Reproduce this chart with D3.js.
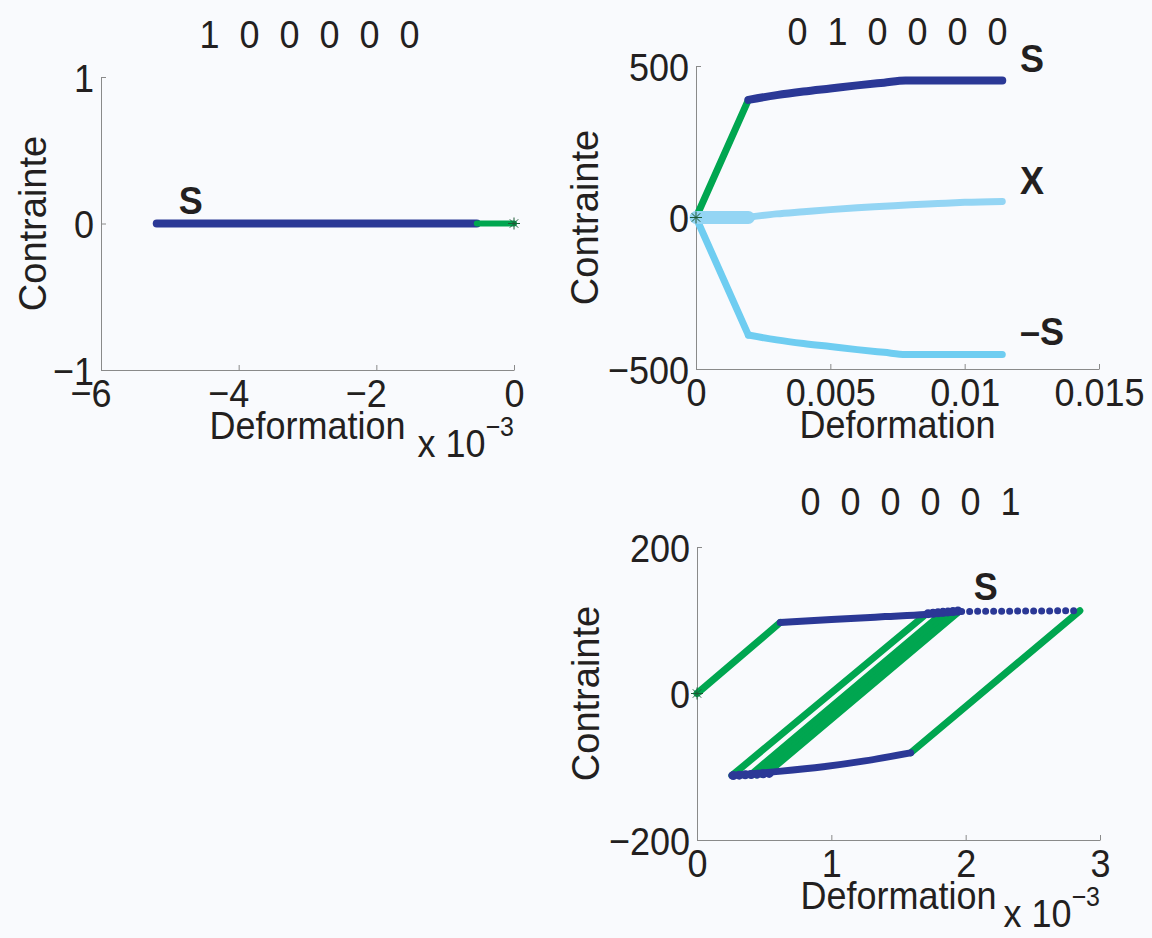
<!DOCTYPE html>
<html><head><meta charset="utf-8">
<script src="https://cdn.jsdelivr.net/npm/d3@7"></script>
<style>
html,body{margin:0;padding:0;background:#f9fafd;}
svg{display:block;font-family:"Liberation Sans",Arial,Helvetica,sans-serif;}
</style></head><body>
<svg id="chart" width="1152" height="938"></svg>
<script>
// ---------- data ----------
const titles = ["1  0  0  0  0  0", "0  1  0  0  0  0", "0  0  0  0  0  1"];
const xLabel = "Deformation";
const yLabel = "Contrainte";

// panel 1 : 1 0 0 0 0 0
const p1XTicks = [-6e-3, -4e-3, -2e-3, 0];
const p1XTickLabels = ["\u22126", "\u22124", "\u22122", "0"];
const p1YTicks = [-1, 0, 1];
const p1YTickLabels = ["\u22121", "0", "1"];
const p1Blue = [[-5.19e-3, 0], [-0.54e-3, 0]];
const p1Green = [[-0.54e-3, 0], [0, 0]];

// panel 2 : 0 1 0 0 0 0
const p2XTicks = [0, 0.005, 0.01, 0.015];
const p2XTickLabels = ["0", "0.005", "0.01", "0.015"];
const p2YTicks = [-500, 0, 500];
const p2YTickLabels = ["\u2212500", "0", "500"];
const p2Green = [[0, 0], [0.00195, 388]];
const p2S = [[0.00195, 388], [0.003, 404], [0.004, 416], [0.005, 426], [0.006, 436], [0.007, 445], [0.0078, 452], [0.0114, 452]];
const p2XBand = [[0, 0], [0.00195, 0]];
const p2X = [[0.00195, 1], [0.003, 12], [0.004, 19], [0.005, 26], [0.006, 32], [0.007, 37], [0.008, 42], [0.009, 46], [0.010, 50], [0.0114, 53]];
const p2MinusSElastic = [[0, 0], [0.00195, -388]];
const p2MinusS = [[0.00195, -388], [0.003, -404], [0.004, -416], [0.005, -426], [0.006, -436], [0.007, -445], [0.0078, -452], [0.0114, -452]];

// panel 3 : 0 0 0 0 0 1
const p3XTicks = [0, 1e-3, 2e-3, 3e-3];
const p3XTickLabels = ["0", "1", "2", "3"];
const p3YTicks = [-200, 0, 200];
const p3YTickLabels = ["\u2212200", "0", "200"];
const p3GreenLoad = [[0, 0], [0.62e-3, 97]];
const p3BlueTop = [[0.62e-3, 97], [1.0e-3, 101], [1.4e-3, 105], [1.7e-3, 108], [1.95e-3, 112]];
const p3BlueTopDense = [[1.72e-3, 109], [1.97e-3, 113]];
const p3BlueTopDots = [[1.97e-3, 112], [2.85e-3, 113]];
const p3GreenLeft = [[0.26e-3, -112], [1.69e-3, 106]];
const p3GreenBand = [
  [[0.40e-3, -111], [1.83e-3, 110]],
  [[0.44e-3, -111], [1.87e-3, 111]],
  [[0.48e-3, -110], [1.91e-3, 112]],
  [[0.52e-3, -109], [1.95e-3, 112]]
];
const p3BlueBottom = [[0.26e-3, -112], [0.57e-3, -107], [0.94e-3, -100], [1.25e-3, -92], [1.59e-3, -81]];
const p3BlueBottomDense = [[0.27e-3, -112], [0.55e-3, -109]];
const p3GreenRight = [[1.59e-3, -81], [2.85e-3, 113]];

// ---------- style ----------
const C = {
  blue: "#2b3896", green: "#00a650", lightX: "#94d5f4", sky: "#6fcdf1",
  text: "#231f20", axis: "#8a8a8a", star: "#1d5a36"
};
const FS = 36, SY = 1.1, FS_ROT = 38;

const svg = d3.select("#chart");

function T(parent, x, y, str, o) {
  o = o || {};
  const t = parent.append("text")
    .attr("transform", `translate(${x},${y}) scale(1,${o.sy || SY})`)
    .attr("text-anchor", o.anchor || "start")
    .attr("font-size", o.size || FS)
    .attr("font-weight", o.weight || "normal")
    .attr("fill", C.text);
  if (o.pre) t.attr("xml:space", "preserve").style("white-space", "pre");
  t.text(str);
  return t;
}

function panel(cfg) {
  const x = d3.scaleLinear().domain(cfg.xDomain).range([cfg.left, cfg.right]);
  const y = d3.scaleLinear().domain(cfg.yDomain).range([cfg.bottom, cfg.top]);
  const g = svg.append("g");

  const ax = g.append("g").attr("transform", `translate(0,${cfg.bottom})`)
    .call(d3.axisBottom(x).tickValues(cfg.xTicks).tickSizeInner(-5).tickSizeOuter(0).tickFormat(""));
  const ay = g.append("g").attr("transform", `translate(${cfg.left},0)`)
    .call(d3.axisLeft(y).tickValues(cfg.yTicks).tickSizeInner(-5).tickSizeOuter(0).tickFormat(""));
  [ax, ay].forEach(a => {
    a.select(".domain").attr("stroke", C.axis).attr("stroke-width", 1);
    a.selectAll(".tick line").attr("stroke", C.axis).attr("stroke-width", 1);
    a.selectAll(".tick text").remove();
  });
  ax.selectAll(".tick").each(function (d, i) {
    const lab = cfg.xTickLabels[i];
    if (lab.startsWith("\u2212")) {
      const nd = lab.length - 1;
      T(d3.select(this), nd * 0.556 * FS / 2, 37, lab, { anchor: "end" });
    } else {
      T(d3.select(this), 0, 37, lab, { anchor: "middle" });
    }
  });
  ay.selectAll(".tick").each(function (d, i) {
    T(d3.select(this), -7, 0.36 * FS * SY, cfg.yTickLabels[i], { anchor: "end" });
  });

  // labels
  T(g, (cfg.left + cfg.right) / 2, cfg.bottom + 69, xLabel, { anchor: "middle" });
  g.append("text").attr("transform", `translate(${cfg.yLabelX},${(cfg.top + cfg.bottom) / 2}) rotate(-90)`)
    .attr("text-anchor", "middle").attr("font-size", FS_ROT).attr("fill", C.text).text(yLabel);
  T(g, (cfg.left + cfg.right) / 2 + (cfg.titleDx || 0), cfg.titleY, cfg.title, { anchor: "middle", pre: true });
  if (cfg.exponent) {
    const e = T(g, cfg.right, cfg.bottom + 87, "", { anchor: "end" });
    e.append("tspan").text("x 10");
    e.append("tspan").attr("font-size", 25).attr("dy", -19).text("\u22123");
  }
  return { g, x, y };
}

function line(p, data, color, width, opts) {
  opts = opts || {};
  const gen = d3.line().x(d => p.x(d[0])).y(d => p.y(d[1]));
  if (opts.curve) gen.curve(d3.curveMonotoneX);
  const path = p.g.append("path").attr("d", gen(data)).attr("fill", "none")
    .attr("stroke", color).attr("stroke-width", width)
    .attr("stroke-linecap", "round").attr("stroke-linejoin", "round");
  if (opts.dash) path.attr("stroke-dasharray", opts.dash);
  return path;
}

function star(p, pt) {
  const cx = p.x(pt[0]), cy = p.y(pt[1]), r = 6;
  const s = p.g.append("g").attr("stroke", C.star).attr("stroke-width", 1);
  [[r, 0], [0, r], [r * 0.7, r * 0.7], [r * 0.7, -r * 0.7]].forEach(([dx, dy]) => {
    s.append("line").attr("x1", cx - dx).attr("y1", cy - dy).attr("x2", cx + dx).attr("y2", cy + dy);
  });
}

function ann(p, pt, txt, anchor) {
  T(p.g, p.x(pt[0]), p.y(pt[1]), txt, { anchor: anchor || "start", weight: "bold" });
}

// ---------- panel 1 ----------
const P1 = panel({
  left: 101, right: 514, top: 77, bottom: 370,
  xDomain: [-6e-3, 0], yDomain: [-1, 1],
  xTicks: p1XTicks, xTickLabels: p1XTickLabels, yTicks: p1YTicks, yTickLabels: p1YTickLabels,
  yLabelX: 46, title: titles[0], titleY: 48, titleDx: 2, exponent: true
});
line(P1, p1Blue, C.blue, 8);
line(P1, p1Green, C.green, 6);
star(P1, [0, 0]);
ann(P1, [-4.87e-3, 0.065], "S");

// ---------- panel 2 ----------
const P2 = panel({
  left: 696, right: 1099, top: 66, bottom: 369,
  xDomain: [0, 0.015], yDomain: [-500, 500],
  xTicks: p2XTicks, xTickLabels: p2XTickLabels, yTicks: p2YTicks, yTickLabels: p2YTickLabels,
  yLabelX: 598, title: titles[1], titleY: 45, exponent: false
});
line(P2, p2Green, C.green, 7);
line(P2, p2S, C.blue, 8, { curve: true });
line(P2, p2MinusSElastic, C.sky, 7);
line(P2, p2MinusS, C.sky, 7, { curve: true });
line(P2, p2X, C.lightX, 7, { curve: true });
line(P2, p2XBand, C.lightX, 13);
star(P2, [0, 0]);
ann(P2, [0.01206, 480], "S");
ann(P2, [0.01206, 78], "X");
ann(P2, [0.01206, -421], "\u2013S");

// ---------- panel 3 ----------
const P3 = panel({
  left: 697, right: 1100, top: 547, bottom: 840,
  xDomain: [0, 3e-3], yDomain: [-200, 200],
  xTicks: p3XTicks, xTickLabels: p3XTickLabels, yTicks: p3YTicks, yTickLabels: p3YTickLabels,
  yLabelX: 599, title: titles[2], titleY: 515, titleDx: 12, exponent: true
});
line(P3, p3GreenLoad, C.green, 7);
line(P3, p3GreenLeft, C.green, 7);
p3GreenBand.forEach(seg => line(P3, seg, C.green, 7));
line(P3, p3GreenRight, C.green, 7);
line(P3, p3BlueTop, C.blue, 7, { curve: true });
line(P3, p3BlueTopDense, C.blue, 9, { dash: "0 5" });
line(P3, p3BlueTopDots, C.blue, 7, { dash: "0 8" });
line(P3, p3BlueBottom, C.blue, 7, { curve: true });
line(P3, p3BlueBottomDense, C.blue, 9, { dash: "0 6" });
star(P3, [0, 0]);
ann(P3, [2.15e-3, 128], "S", "middle");
</script>
</body></html>
